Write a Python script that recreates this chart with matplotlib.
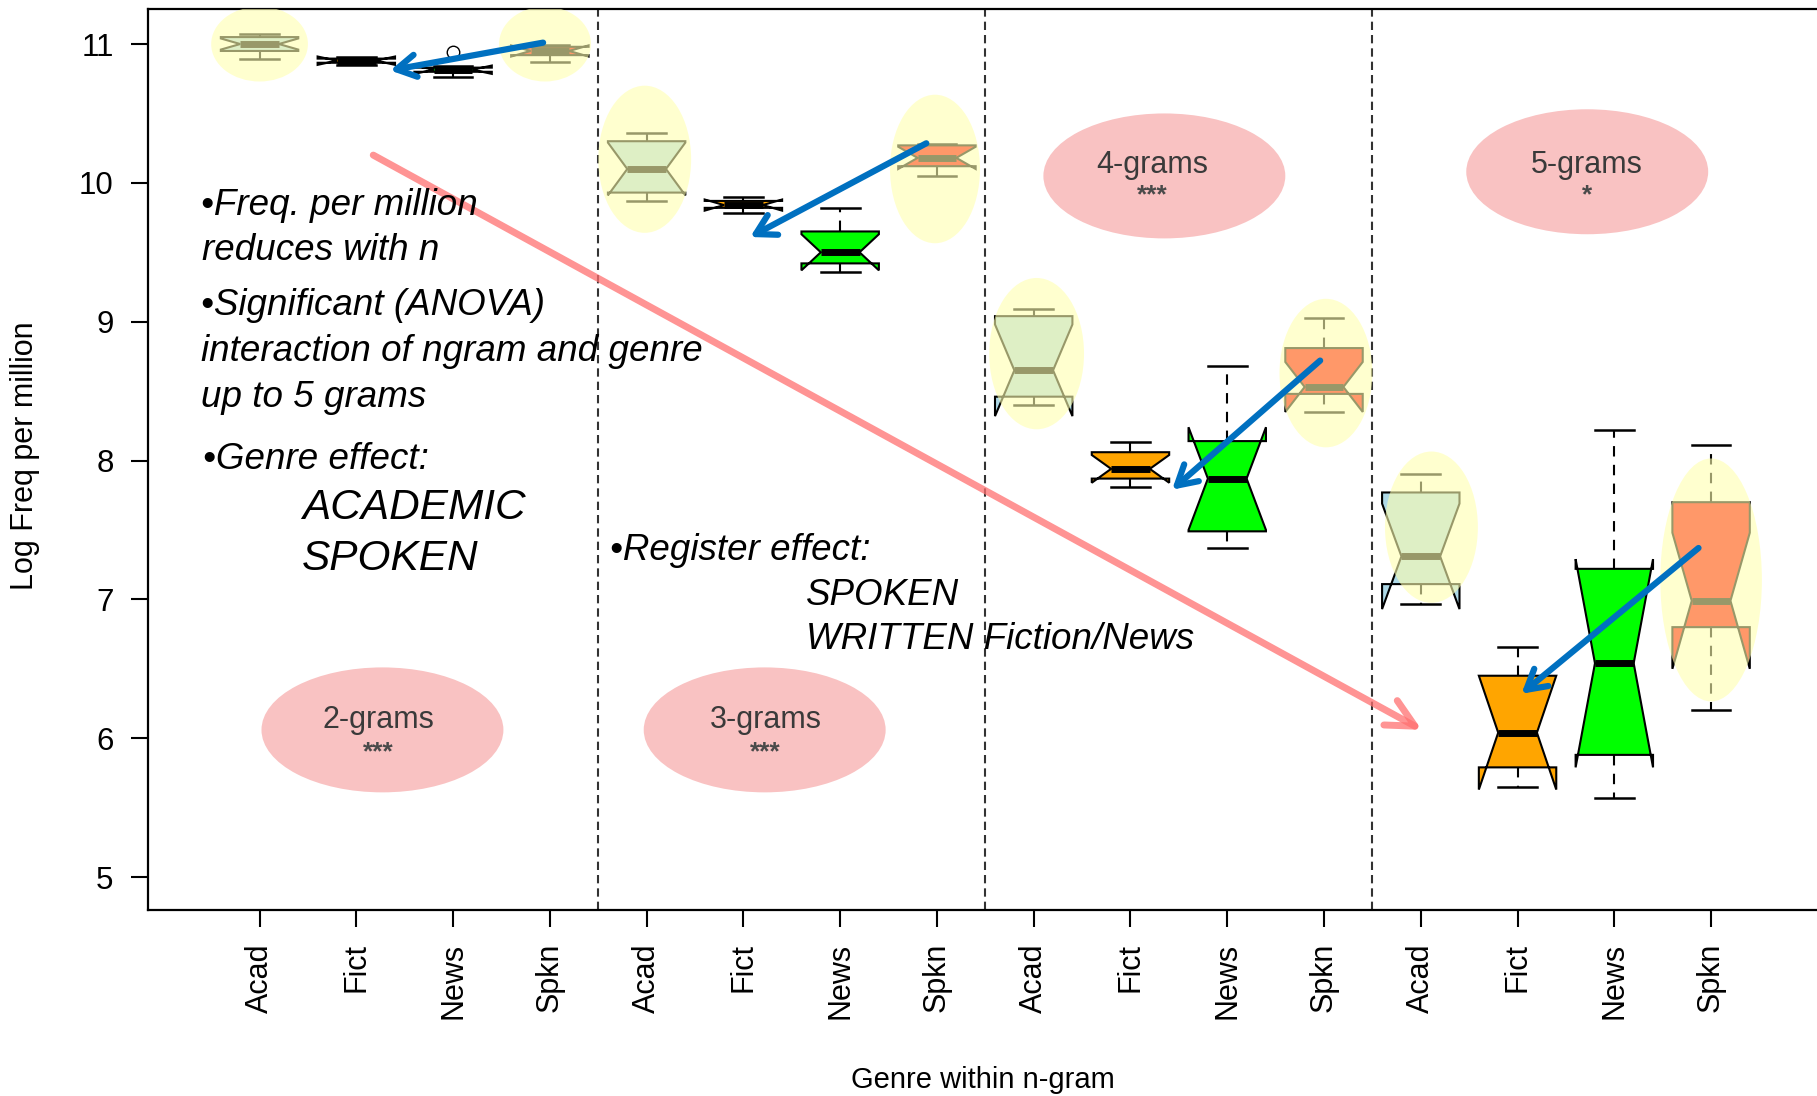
import matplotlib
matplotlib.use('Agg')
import matplotlib.pyplot as plt
from matplotlib.patches import Ellipse

plt.rcParams['font.family'] = ['Liberation Sans', 'DejaVu Sans']

genres = ['Acad', 'Fict', 'News', 'Spkn']
ngrams = ['2-grams', '3-grams', '4-grams', '5-grams']
signif = ['***', '***', '***', '*']

# log frequency per million, one box per ngram x genre (2-grams first)
whis_lo = [10.89, 10.85, 10.76, 10.87,
           9.87, 9.78, 9.36, 10.05,
           8.40, 7.81, 7.37, 8.35,
           6.97, 5.65, 5.57, 6.20]
q1 = [10.95, 10.865, 10.80, 10.92,
      9.93, 9.82, 9.42, 10.12,
      8.46, 7.87, 7.49, 8.48,
      7.11, 5.79, 5.88, 6.80]
med = [11.00, 10.88, 10.815, 10.95,
       10.10, 9.84, 9.50, 10.18,
       8.65, 7.94, 7.87, 8.53,
       7.31, 6.04, 6.54, 6.99]
q3 = [11.05, 10.895, 10.83, 10.98,
      10.30, 9.87, 9.65, 10.27,
      9.04, 8.06, 8.14, 8.81,
      7.77, 6.45, 7.22, 7.70]
whis_hi = [11.07, 10.91, 10.84, 10.99,
           10.36, 9.90, 9.82, 10.28,
           9.09, 8.13, 8.68, 9.03,
           7.90, 6.66, 8.22, 8.11]
notch_half = [0.04, 0.03, 0.03, 0.04,
              0.19, 0.04, 0.13, 0.08,
              0.33, 0.10, 0.37, 0.18,
              0.38, 0.41, 0.75, 0.49]
outliers = [[], [], [10.94], [],
            [], [], [], [],
            [], [], [], [],
            [], [], [], []]

genre_colors = ['lightblue', 'orange', '#00FF00', 'red']

# ellipse highlights: (x, y, width, height)
yellow_marks = [(1.0, 11.0, 1.0, 0.54), (3.95, 11.0, 0.95, 0.54),
                (4.98, 10.17, 0.96, 1.06), (7.98, 10.10, 0.93, 1.07),
                (9.03, 8.77, 0.98, 1.09), (12.02, 8.63, 0.96, 1.07),
                (13.11, 7.52, 0.96, 1.09), (16.0, 7.14, 1.05, 1.75)]
pink_marks = [(2.27, 6.06), (6.22, 6.06), (10.35, 10.05), (14.72, 10.08)]
pink_text = [(2.23, 6.13, 5.90), (6.23, 6.13, 5.90),
             (10.23, 10.13, 9.91), (14.72, 10.13, 9.91)]

blue_tail = [(3.93, 11.01), (7.89, 10.285), (11.96, 8.72), (15.87, 7.37)]
blue_tip = [(2.35, 10.81), (6.07, 9.61), (10.43, 7.79), (14.04, 6.32)]

fig = plt.figure(figsize=(18.17, 10.96), dpi=100)
ax = fig.add_axes([0.0816, 0.170, 0.940, 0.8215])

stats = []
for i in range(16):
    stats.append(dict(med=med[i], q1=q1[i], q3=q3[i],
                      whislo=whis_lo[i], whishi=whis_hi[i],
                      cilo=med[i] - notch_half[i], cihi=med[i] + notch_half[i],
                      fliers=outliers[i]))

positions = list(range(1, 17))
bp = ax.bxp(stats, positions=positions, widths=0.8, shownotches=True,
            patch_artist=True, manage_ticks=False,
            boxprops=dict(edgecolor='black', linewidth=1.5),
            whiskerprops=dict(color='black', linewidth=1.5, linestyle=(0, (5, 4))),
            capprops=dict(color='black', linewidth=1.8),
            medianprops=dict(color='black', linewidth=5, solid_capstyle='butt'),
            flierprops=dict(marker='o', markerfacecolor='none',
                            markeredgecolor='black', markersize=9))
for i, box in enumerate(bp['boxes']):
    box.set_facecolor(genre_colors[i % 4])

for x in [4.5, 8.5, 12.5]:
    ax.axvline(x, color='#333333', linewidth=1.5, linestyle=(0, (4, 2.4)), zorder=1)

for (x, y, w, h) in yellow_marks:
    ax.add_patch(Ellipse((x, y), w, h, facecolor='#FFFFB0', alpha=0.6,
                         edgecolor='none', zorder=3))

for k, (x, y) in enumerate(pink_marks):
    ax.add_patch(Ellipse((x, y), 2.5, 0.9, facecolor='#F9C2C2',
                         edgecolor='none', zorder=1))
    tx, ty, sy = pink_text[k]
    ax.text(tx, ty, ngrams[k], fontsize=22, color='#3A3A3A',
            ha='center', va='center', zorder=2)
    ax.text(tx, sy, signif[k], fontsize=19, fontweight='bold', color='#4A4A4A',
            ha='center', va='center', zorder=2)

# overall trend arrow
ax.annotate('', xy=(13.01, 6.06), xytext=(2.175, 10.20),
            arrowprops=dict(arrowstyle='->,head_length=2.0,head_width=1.0',
                            color='#FF7070', alpha=0.75, lw=5,
                            mutation_scale=10, shrinkA=0, shrinkB=0,
                            capstyle='round', joinstyle='round'),
            zorder=4)

# register shift within each n-gram
for (tail, tip) in zip(blue_tail, blue_tip):
    ax.annotate('', xy=tip, xytext=tail,
                arrowprops=dict(arrowstyle='->,head_length=1.4,head_width=0.8',
                                color='#0070C0', lw=4.5, mutation_scale=10,
                                shrinkA=0, shrinkB=0,
                                capstyle='round', joinstyle='round'),
                zorder=6)

note = dict(fontsize=26.5, style='italic', color='black', va='baseline',
            ha='left', zorder=5)
ax.text(0.40, 9.765, '\u2022Freq. per million', **note)
ax.text(0.41, 9.445, 'reduces with n', **note)
ax.text(0.39, 9.05, '\u2022Significant (ANOVA)', **note)
ax.text(0.40, 8.715, 'interaction of ngram and genre', **note)
ax.text(0.40, 8.385, 'up to 5 grams', **note)
ax.text(0.42, 7.94, '\u2022Genre effect:', **note)
ax.text(1.44, 7.58, 'ACADEMIC', **dict(note, fontsize=30.5))
ax.text(1.44, 7.21, 'SPOKEN', **dict(note, fontsize=30.5))
ax.text(4.62, 7.285, '\u2022Register effect:', **note)
ax.text(6.65, 6.96, 'SPOKEN', **note)
ax.text(6.65, 6.64, 'WRITTEN Fiction/News', **note)

ax.set_xlim(-0.15, 17.5)
ax.set_ylim(4.765, 11.25)
ax.set_xticks(positions)
ax.set_xticklabels(genres * 4, rotation=90, fontsize=22)
ax.set_yticks(range(5, 12))
ax.tick_params(axis='y', labelsize=22.5, length=12, width=1.5, pad=13)
ax.tick_params(axis='x', length=12, width=1.5, pad=12)
ax.spines['right'].set_visible(False)
for s in ['left', 'top', 'bottom']:
    ax.spines[s].set_linewidth(1.6)

fig.text(983 / 1817, 1 - 1080 / 1096, 'Genre within n-gram', fontsize=21,
         ha='center', va='center')
fig.text(25 / 1817, 1 - 456 / 1096, 'Log Freq per million', fontsize=22,
         rotation=90, ha='center', va='center')

fig.savefig('out.png', dpi=100)
